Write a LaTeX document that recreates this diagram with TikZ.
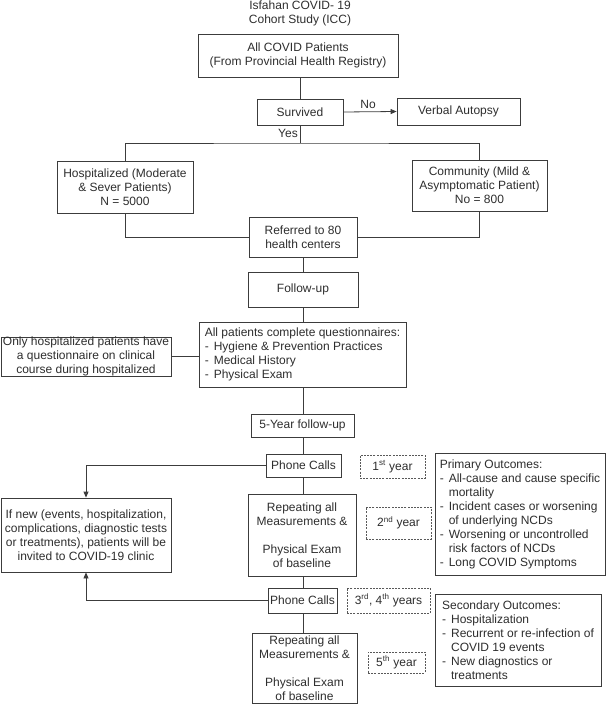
\documentclass[tikz,border=0pt]{standalone}
\usepackage{fontspec}
\setmainfont{Liberation Sans}
\usetikzlibrary{arrows.meta}
\definecolor{linec}{HTML}{3C3C3C}
\definecolor{textc}{HTML}{2E2E2E}
\newcommand{\dashit}{\makebox[9pt][l]{-}}
\newcommand{\contit}{\hspace*{9pt}}
\begin{document}
\begin{tikzpicture}[x=1pt,y=-1pt,
  txt/.style={text=textc, font=\fontsize{12}{14}\selectfont},
  box/.style={txt, draw=linec, line width=0.8pt, fill=white, align=center, inner sep=0pt},
  lbox/.style={box, align=left},
  dbox/.style={box, draw=black!65, dash pattern=on 2pt off 1.2pt},
  conn/.style={draw=linec, line width=0.8pt},
  arr/.style={conn, -{Triangle[length=6pt,width=5pt]}}]
\useasboundingbox (0,0) rectangle (606,706);

\node[txt, align=center] (title) at (300,13) {Isfahan COVID- 19\\Cohort Study (ICC)};
\node[box, minimum width=200pt, minimum height=43pt] (all) at (298,55.5) {All COVID Patients\\(From Provincial Health Registry)};
\node[box, minimum width=86pt, minimum height=26pt] (surv) at (300,112) {Survived};
\node[box, minimum width=123pt, minimum height=27pt] (verbal) at (458.5,111.5) {Verbal Autopsy};
\node[box, minimum width=136pt, minimum height=52pt] (hosp) at (125,187) {Hospitalized (Moderate\\\& Sever Patients)\\N = 5000};
\node[box, minimum width=135pt, minimum height=51pt] (comm) at (479.5,185.5) {Community (Mild \&\\Asymptomatic Patient)\\No = 800};
\node[box, minimum width=108pt, minimum height=40pt] (ref) at (303,237) {Referred to 80\\health centers};
\node[box, minimum width=110pt, minimum height=35pt] (follow) at (303,289.5) {Follow-up};
\node[lbox, minimum width=207pt, minimum height=65pt] (allpat) at (302.5,354.5) {All patients complete questionnaires:\\\dashit Hygiene \& Prevention Practices\\\dashit Medical History\\\dashit Physical Exam};
\node[box, minimum width=170pt, minimum height=37pt] (only) at (86,356.5) {Only hospitalized patients have\\a questionnaire on clinical\\course during hospitalized};
\node[box, minimum width=103pt, minimum height=23pt] (five) at (302.5,425.5) {5-Year follow-up};
\node[box, minimum width=75pt, minimum height=23pt] (phone1) at (303.5,465.5) {Phone Calls};
\node[dbox, minimum width=65pt, minimum height=23pt] (yr1) at (392.5,466.5) {1\textsuperscript{st} year};
\node[box, minimum width=170pt, minimum height=74pt] (ifnew) at (86,535) {If new (events, hospitalization,\\complications, diagnostic tests\\or treatments), patients will be\\invited to COVID-19 clinic};
\node[box, minimum width=108pt, minimum height=82pt] (rep1) at (302,535) {Repeating all\\Measurements \&\\[14pt]Physical Exam\\of baseline};
\node[dbox, minimum width=65pt, minimum height=32pt] (yr2) at (398.5,523) {2\textsuperscript{nd} year};
\node[lbox, minimum width=170pt, minimum height=122pt] (primary) at (520,514) {Primary Outcomes:\\\dashit All-cause and cause specific\\\contit mortality\\\dashit Incident cases or worsening\\\contit of underlying NCDs\\\dashit Worsening or uncontrolled\\\contit risk factors of NCDs\\\dashit Long COVID Symptoms};
\node[box, minimum width=69pt, minimum height=25pt] (phone2) at (302.5,600.5) {Phone Calls};
\node[dbox, minimum width=83pt, minimum height=25pt] (yr34) at (388.5,600.5) {3\textsuperscript{rd}, 4\textsuperscript{th} years};
\node[lbox, minimum width=166pt, minimum height=92pt] (secondary) at (518,640) {Secondary Outcomes:\\\dashit Hospitalization\\\dashit Recurrent or re-infection of\\\contit COVID 19 events\\\dashit New diagnostics or\\\contit treatments};
\node[box, minimum width=105pt, minimum height=70pt] (rep2) at (304.5,668) {Repeating all\\Measurements \&\\[14pt]Physical Exam\\of baseline};
\node[dbox, minimum width=57pt, minimum height=21pt] (yr5) at (396.5,662.5) {5\textsuperscript{th} year};

\node[txt] (no) at (368,104) {No};
\node[txt] (yes) at (288,133) {Yes};

\coordinate (split) at (300,143);
\draw[conn] (surv.north) -- (surv.north |- all.south);
\draw[arr] (surv.east) -- (verbal.west);
\draw[conn] (surv.south) -- (split);
\draw[conn] (hosp.north) |- (split) -| (comm.north);
\draw[conn] (hosp.south) |- (ref.west);
\draw[conn] (comm.south) |- (ref.east);
\draw[conn] (ref.south) -- (ref.south |- follow.north);
\draw[conn] (follow.south) -- (follow.south |- allpat.north);
\draw[conn] (only.east) -- (only.east -| allpat.west);
\draw[conn] (five.north -| follow.south) -- (follow.south |- allpat.south);
\draw[conn] (five.south -| follow.south) -- (follow.south |- phone1.north);
\draw[conn] (phone1.south -| follow.south) -- (follow.south |- rep1.north);
\draw[conn] (rep1.south -| follow.south) -- (follow.south |- phone2.north);
\draw[conn] (phone2.south -| follow.south) -- (follow.south |- rep2.north);
\draw[arr] (phone1.west) -| (ifnew.north);
\draw[arr] (phone2.west) -| (ifnew.south);
\end{tikzpicture}
\end{document}
